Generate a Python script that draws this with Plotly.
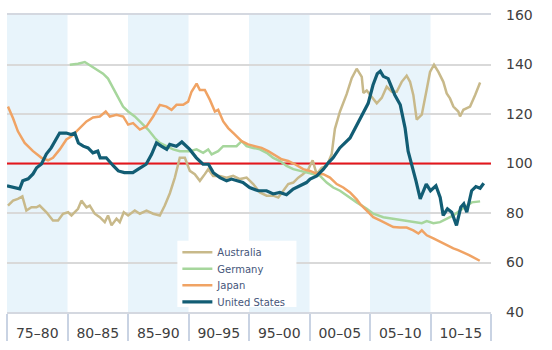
import plotly.graph_objects as go

# ---- data ----
periods = ["75–80", "80–85", "85–90", "90–95", "95–00", "00–05", "05–10", "10–15"]
period_starts = [1975, 1980, 1985, 1990, 1995, 2000, 2005, 2010]
shaded_starts = [1975, 1985, 1995, 2005]

us_x = [1975.0, 1975.6, 1976.05, 1976.3, 1976.75, 1977.15, 1977.45, 1977.85, 1978.25, 1978.65,
        1978.95, 1979.35, 1979.9, 1980.3, 1980.6, 1980.9, 1981.3, 1981.7, 1982.1, 1982.5,
        1982.7, 1983.2, 1983.8, 1984.2, 1984.7, 1985.4, 1985.85, 1986.5, 1986.95, 1987.35,
        1987.75, 1988.2, 1988.45, 1989.0, 1989.45, 1989.85, 1990.1, 1990.65, 1991.2, 1991.65,
        1992.05, 1992.6, 1993.15, 1993.55, 1994.0, 1994.5, 1995.05, 1995.75, 1996.45, 1997.0,
        1997.55, 1998.1, 1998.65, 1999.2, 1999.75, 2000.05, 2000.6, 2001.15, 2001.55, 2001.95,
        2002.5, 2003.35, 2003.9, 2004.45, 2004.85, 2005.25, 2005.6, 2005.85, 2006.1, 2006.5,
        2007.05, 2007.5, 2007.9, 2008.15, 2008.45, 2008.8, 2009.15, 2009.65, 2010.0, 2010.45,
        2010.8, 2011.05, 2011.4, 2011.75, 2012.15, 2012.5, 2012.75, 2013.0, 2013.4, 2013.75,
        2014.1, 2014.4]
us_y = [91.0, 90.3, 89.8, 93.0, 93.8, 95.8, 98.3, 99.8, 103.8, 106.3,
        109.0, 112.3, 112.3, 111.7, 112.3, 108.3, 107.0, 106.3, 104.3, 105.0,
        102.3, 102.3, 99.0, 97.0, 96.3, 96.3, 97.7, 99.7, 103.7, 108.3,
        107.0, 105.7, 107.7, 107.0, 108.7, 107.0, 105.7, 102.3, 99.7, 99.7,
        96.3, 94.3, 93.0, 93.7, 93.0, 92.3, 90.3, 89.0, 89.0, 87.7,
        88.3, 87.4, 89.7, 91.0, 92.3, 93.7, 95.0, 97.7, 100.3, 102.3,
        106.3, 110.3, 115.7, 121.0, 124.3, 131.7, 136.3, 137.3, 135.2, 134.3,
        127.7, 123.7, 114.3, 105.0, 99.7, 93.0, 85.7, 91.7, 89.0, 91.0,
        86.3, 79.0, 81.7, 80.3, 75.0, 82.3, 83.7, 80.3, 89.0, 90.7,
        90.0, 92.0]

jp_x = [1975.08, 1975.5, 1975.9, 1976.46, 1977.15, 1977.85, 1978.39, 1978.8, 1979.36, 1979.91,
        1980.33, 1980.74, 1981.15, 1981.57, 1982.11, 1982.67, 1983.16, 1983.5, 1984.05, 1984.6,
        1985.01, 1985.42, 1985.98, 1986.53, 1987.08, 1987.63, 1988.18, 1988.6, 1989.01, 1989.56,
        1989.97, 1990.25, 1990.67, 1990.94, 1991.35, 1991.77, 1992.18, 1992.45, 1992.87, 1993.28,
        1993.84, 1994.39, 1994.93, 1995.49, 1996.04, 1996.59, 1997.14, 1997.7, 1998.24, 1998.8,
        1999.48, 2000.04, 2000.59, 2001.14, 2001.69, 2002.25, 2002.79, 2003.35, 2003.9, 2004.17,
        2004.73, 2005.27, 2005.83, 2006.38, 2006.93, 2007.48, 2008.03, 2008.58, 2009.0, 2009.28,
        2009.69, 2010.24, 2010.79, 2011.34, 2011.89, 2012.28, 2013.19, 2014.07]
jp_y = [123.0, 118.3, 113.0, 108.3, 105.0, 102.3, 101.3, 102.3, 105.7, 109.7,
        111.0, 113.0, 115.0, 117.0, 118.6, 119.0, 121.0, 119.0, 119.7, 119.0,
        115.7, 116.3, 113.7, 115.0, 119.0, 123.7, 123.0, 121.7, 123.7, 123.7,
        125.0, 129.0, 132.3, 129.7, 129.7, 125.7, 121.0, 121.7, 117.0, 114.3,
        111.7, 109.0, 107.7, 107.0, 106.3, 105.0, 103.4, 101.7, 101.0, 99.7,
        97.7, 97.0, 95.9, 95.7, 94.3, 91.7, 90.3, 88.3, 85.5, 83.7,
        81.0, 78.3, 77.0, 75.7, 74.3, 74.1, 74.1, 73.0, 71.7, 73.0,
        71.0, 69.7, 68.3, 67.0, 65.7, 65.0, 63.0, 60.7]

de_x = [1980.19, 1980.87, 1981.43, 1981.84, 1982.39, 1982.94, 1983.35, 1983.77, 1984.18, 1984.59,
        1985.01, 1985.56, 1986.12, 1986.66, 1987.22, 1987.63, 1988.18, 1988.73, 1989.28, 1990.11,
        1990.67, 1991.21, 1991.63, 1991.91, 1992.45, 1992.87, 1993.42, 1993.97, 1994.39, 1994.8,
        1995.35, 1995.9, 1996.46, 1997.0, 1997.56, 1998.11, 1998.66, 1999.21, 1999.76, 2000.31,
        2000.87, 2001.42, 2001.96, 2002.52, 2003.07, 2003.9, 2004.73, 2005.27, 2006.1, 2006.93,
        2007.75, 2008.58, 2009.28, 2009.69, 2010.24, 2010.79, 2011.34, 2011.89, 2012.44, 2013.0,
        2013.41, 2014.1]
de_y = [139.9, 140.3, 141.0, 139.7, 137.7, 136.3, 134.3, 130.3, 126.3, 123.0,
        121.0, 119.0, 116.3, 113.7, 110.3, 108.3, 107.0, 105.7, 105.0, 105.0,
        105.7, 104.3, 105.7, 103.7, 105.0, 107.0, 107.0, 107.0, 109.0, 107.0,
        106.3, 105.7, 104.3, 102.3, 101.0, 99.0, 97.7, 97.0, 96.3, 95.4,
        95.0, 92.3, 90.3, 89.0, 87.0, 84.3, 81.7, 79.7, 78.3, 77.7,
        77.0, 76.3, 75.9, 76.7, 75.9, 76.3, 77.7, 79.0, 81.0, 83.0,
        84.3, 84.7]

au_x = [1975.08, 1975.5, 1975.9, 1976.27, 1976.6, 1977.02, 1977.43, 1977.7, 1978.26, 1978.8,
        1979.22, 1979.63, 1980.05, 1980.33, 1980.87, 1981.15, 1981.57, 1981.84, 1982.25, 1982.67,
        1983.08, 1983.35, 1983.64, 1984.05, 1984.32, 1984.65, 1985.01, 1985.56, 1985.98, 1986.53,
        1987.08, 1987.63, 1988.04, 1988.46, 1988.87, 1989.28, 1989.7, 1990.11, 1990.52, 1990.94,
        1991.35, 1991.63, 1992.04, 1992.59, 1993.15, 1993.69, 1994.25, 1994.8, 1995.35, 1995.9,
        1996.46, 1997.0, 1997.42, 1997.83, 1998.24, 1998.66, 1999.07, 1999.48, 1999.9, 2000.26,
        2000.59, 2001.0, 2001.42, 2001.83, 2002.1, 2002.52, 2003.07, 2003.49, 2003.9, 2004.32,
        2004.45, 2004.73, 2005.14, 2005.56, 2005.97, 2006.38, 2006.8, 2007.21, 2007.62, 2008.03,
        2008.31, 2008.58, 2008.86, 2009.28, 2009.69, 2009.96, 2010.29, 2010.65, 2011.06, 2011.34,
        2011.61, 2011.89, 2012.3, 2012.44, 2012.72, 2013.27, 2013.69, 2014.1]
au_y = [83.0, 85.0, 85.7, 86.7, 81.0, 82.3, 82.3, 83.0, 80.3, 77.0,
        77.0, 79.7, 80.3, 79.0, 81.7, 85.0, 82.3, 83.0, 79.7, 78.3,
        76.3, 79.0, 75.0, 77.7, 76.3, 80.3, 79.0, 81.0, 79.7, 81.0,
        79.7, 79.0, 83.0, 88.0, 94.3, 102.3, 102.3, 97.0, 95.7, 93.0,
        95.7, 97.7, 95.0, 95.0, 94.3, 95.0, 93.7, 94.3, 91.7, 88.3,
        87.0, 87.0, 86.3, 89.0, 91.7, 92.3, 94.3, 95.7, 97.7, 101.3,
        95.7, 98.3, 99.0, 103.7, 114.0, 121.0, 128.0, 134.5, 138.3, 135.0,
        128.5, 129.5, 127.0, 124.3, 126.5, 131.0, 129.0, 129.0, 133.0, 135.5,
        133.0, 127.7, 117.7, 119.7, 130.0, 137.0, 139.9, 137.0, 133.0, 128.3,
        126.3, 123.0, 121.0, 119.0, 121.7, 123.0, 127.7, 132.7]

x_min, x_max = 1975, 2015
y_min, y_max = 40, 160
y_ticks = [40, 60, 80, 100, 120, 140, 160]
reference_level = 100

# ---- figure ----
fig = go.Figure()

for s in shaded_starts:
    fig.add_shape(type="rect", xref="x", yref="y", x0=s, x1=s + 5, y0=y_min, y1=y_max,
                  fillcolor="#e8f4fb", line_width=0, layer="below")

# white panel behind the legend entries
fig.add_shape(type="rect", xref="paper", yref="paper", x0=0.352, x1=0.598,
              y0=0.017, y1=0.24, fillcolor="white", line_width=0, layer="above")

fig.add_trace(go.Scatter(x=[x_min, x_max], y=[reference_level, reference_level],
                         mode="lines", line=dict(color="#e5161d", width=2),
                         showlegend=False, hoverinfo="skip"))

series = [
    ("Australia", au_x, au_y, "#c8b98a", 2.5),
    ("Germany", de_x, de_y, "#a6d69c", 2.5),
    ("Japan", jp_x, jp_y, "#f0a364", 2.5),
    ("United States", us_x, us_y, "#125d74", 3.2),
]
legend_ids = ["legend", "legend2", "legend3", "legend4"]
for (name, xs, ys, col, w), lg in zip(series, legend_ids):
    fig.add_trace(go.Scatter(x=xs, y=ys, mode="lines", name=name, legend=lg,
                             line=dict(color=col, width=w)))

mid = [s + 2.5 for s in period_starts]
bounds = period_starts + [x_max]

legend_common = dict(xanchor="left", yanchor="middle", x=0.352,
                     bgcolor="rgba(255,255,255,0)", font=dict(size=10, color="#45557a"),
                     itemwidth=30, orientation="h", entrywidth=78,
                     entrywidthmode="pixels")
legend_centres = [0.201, 0.146, 0.090, 0.034]

fig.update_layout(
    width=552, height=350,
    margin=dict(l=7, r=61, t=12, b=38),
    paper_bgcolor="white", plot_bgcolor="white",
    font=dict(family="DejaVu Sans", color="#404040"),
    showlegend=True,
    legend=dict(y=legend_centres[0], **legend_common),
    legend2=dict(y=legend_centres[1], **legend_common),
    legend3=dict(y=legend_centres[2], **legend_common),
    legend4=dict(y=legend_centres[3], **legend_common),
    xaxis=dict(range=[x_min, x_max], showgrid=False, zeroline=False,
               showline=True, mirror=True, linecolor="#d4d8e0", linewidth=1.5,
               tickmode="array", tickvals=mid, ticktext=periods, ticks="",
               tickfont=dict(size=14, color="#404040"), ticklabelstandoff=7,
               minor=dict(tickmode="array", tickvals=bounds, ticks="outside",
                          ticklen=27, tickcolor="#c9d3e3", tickwidth=1.5,
                          showgrid=False)),
    yaxis=dict(range=[y_min, y_max], side="right", tickvals=y_ticks,
               showgrid=True, gridcolor="#d9d9d9", gridwidth=1.5, zeroline=False,
               tickfont=dict(size=14, color="#404040"), ticklabelstandoff=14),
)

fig.write_html("out.html")
